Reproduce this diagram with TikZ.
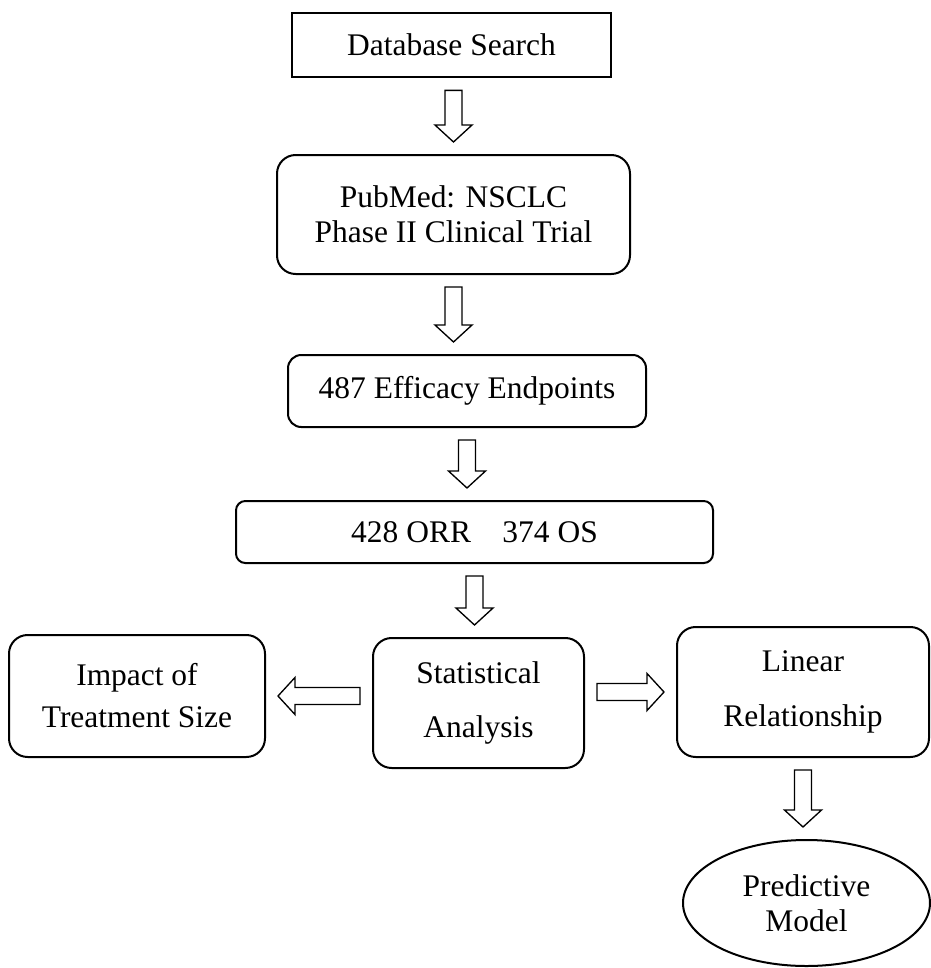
\documentclass[tikz,border=0pt]{standalone}
\usepackage{fontspec}
\setmainfont{Liberation Serif}
\usetikzlibrary{calc,shapes.geometric}

% hollow block arrow between two points
\newcommand{\fatarrow}[2]{%
  \coordinate (fa-s) at (#1);
  \coordinate (fa-e) at (#2);
  \coordinate (fa-a) at ($(fa-s)!9pt!(fa-e)$);
  \coordinate (fa-b) at ($(fa-e)!9pt!(fa-s)$);
  \coordinate (fa-n) at ($(fa-b)!12.75pt!(fa-a)$);
  \draw[hollow] ($(fa-a)!6.4pt!90:(fa-b)$) -- ($(fa-n)!6.4pt!-90:(fa-a)$)
    -- ($(fa-n)!13.9pt!-90:(fa-a)$) -- (fa-b) -- ($(fa-n)!13.9pt!90:(fa-a)$)
    -- ($(fa-n)!6.4pt!90:(fa-a)$) -- ($(fa-a)!6.4pt!-90:(fa-b)$) -- cycle;}

\begin{document}
\begin{tikzpicture}[x=0.75pt, y=-0.75pt]
    \tikzstyle{box}=[rectangle,draw,line width=1.5pt,rounded corners=14pt,align=center,inner sep=0pt,font=\fontsize{23.6}{26.25}\selectfont]
    \tikzstyle{hollow}=[draw,line width=1pt,line join=miter]
    \useasboundingbox (0,0) rectangle (931,968);
    \node[box,rounded corners=0pt,line width=2pt,minimum width=239.25pt,minimum height=48pt] (search) at (451.5,45) {Database Search};
    \node[box,minimum width=264.75pt,minimum height=89.25pt] (pubmed) at (453.5,214.5) {PubMed: NSCLC\\Phase II Clinical Trial};
    \node[box,rounded corners=10pt,minimum width=268.5pt,minimum height=54pt] (endpoints) at (467,391) {487 Efficacy Endpoints};
    \node[box,rounded corners=7pt,minimum width=357.75pt,minimum height=46.5pt] (counts) at (474.5,532) {428 ORR\hspace{1em}374 OS};
    \node[box,font=\fontsize{23.6}{40.5}\selectfont,minimum width=158.25pt,minimum height=97.5pt] (analysis) at (478.5,703) {Statistical\\Analysis};
    \node[box,font=\fontsize{23.6}{31.5}\selectfont,minimum width=192pt,minimum height=91.5pt] (impact) at (137,696) {Impact of\\Treatment Size};
    \node[box,font=\fontsize{23.6}{41}\selectfont,minimum width=189pt,minimum height=97.5pt] (linear) at (803,692) {Linear\\Relationship};
    \node[box,ellipse,minimum width=185.25pt,minimum height=94.5pt] (model) at (806.5,903) {Predictive\\Model};
    \fatarrow{pubmed.north |- search.south}{pubmed.north}
    \fatarrow{pubmed.south}{pubmed.south |- endpoints.north}
    \fatarrow{endpoints.south}{endpoints.south |- counts.north}
    \fatarrow{counts.south}{counts.south |- analysis.north}
    \fatarrow{analysis.west |- impact.east}{impact.east}
    \fatarrow{analysis.east |- linear.west}{linear.west}
    \fatarrow{linear.south}{linear.south |- model.north}
\end{tikzpicture}
\end{document}
